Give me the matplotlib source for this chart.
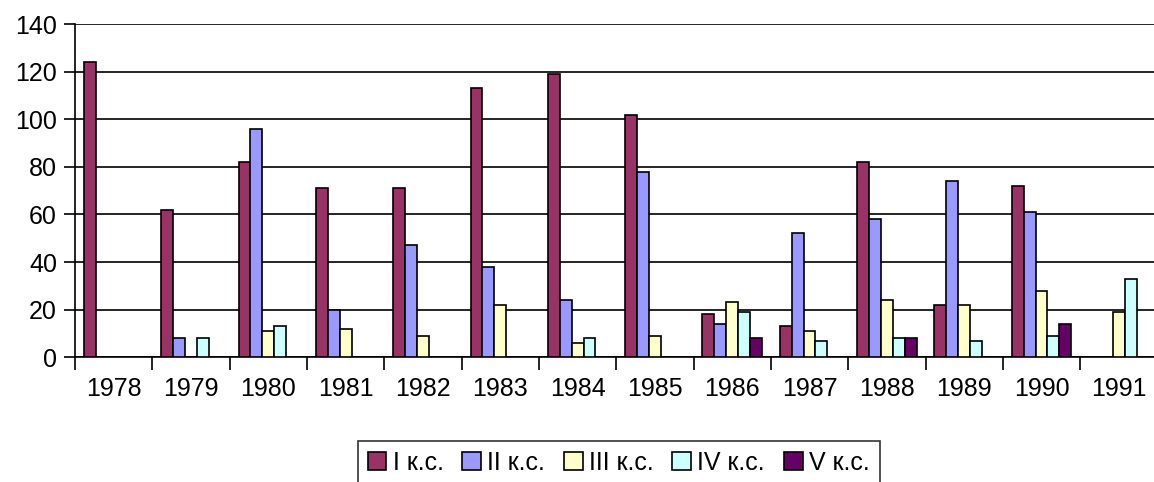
import numpy as np
import matplotlib
matplotlib.use("Agg")
import matplotlib.pyplot as plt

plt.rcParams['font.family'] = ['Liberation Sans', 'DejaVu Sans']

# ====== data ======
years = ["1978", "1979", "1980", "1981", "1982", "1983", "1984",
         "1985", "1986", "1987", "1988", "1989", "1990", "1991"]
series_names = ["I к.с.", "II к.с.", "III к.с.", "IV к.с.", "V к.с."]
cls_1 = [124, 62, 82, 71, 71, 113, 119, 102, 18, 13, 82, 22, 72, 0]
cls_2 = [0, 8, 96, 20, 47, 38, 24, 78, 14, 52, 58, 74, 61, 0]
cls_3 = [0, 0, 11, 12, 9, 22, 6, 9, 23, 11, 24, 22, 28, 19]
cls_4 = [0, 8, 13, 0, 0, 0, 8, 0, 19, 7, 8, 7, 9, 33]
cls_5 = [0, 0, 0, 0, 0, 0, 0, 0, 8, 0, 8, 0, 14, 0]
colors = ["#993366", "#9999FF", "#FFFFCC", "#CCFFFF", "#660066"]

all_series = [cls_1, cls_2, cls_3, cls_4, cls_5]

fig = plt.figure(figsize=(11.54, 4.82), dpi=100)
ax = fig.add_axes([0.065, 0.259, 0.938, 0.691])

x = np.arange(len(years))
bar_w = 1 / 6.5   # excel gap width 150%
for i, (vals, name, col) in enumerate(zip(all_series, series_names, colors)):
    offs = (i - 2) * bar_w
    v = np.array(vals, dtype=float)
    mask = v > 0
    ax.bar(x[mask] + offs, v[mask], width=bar_w, color=col,
           edgecolor="black", linewidth=1.2, zorder=3, label=name)

ax.set_xlim(-0.5, len(years) - 0.5)
ax.set_ylim(0, 140)
ax.set_yticks(range(0, 141, 20))
ax.yaxis.grid(True, color="black", linewidth=1.2, zorder=0)
ax.set_axisbelow(True)

ax.set_xticks(x)
ax.set_xticklabels(years)
ax.set_xticks(np.arange(-0.5, len(years)), minor=True)
ax.tick_params(axis="x", which="major", length=0, pad=14, labelsize=18)
ax.tick_params(axis="x", which="minor", length=9, width=1.2, direction="out")
ax.tick_params(axis="y", length=8, width=1.2, direction="out", labelsize=18, pad=5)

for s in ["top", "right"]:
    ax.spines[s].set_visible(False)
ax.spines["left"].set_linewidth(1.2)
ax.spines["bottom"].set_linewidth(1.2)

# legend frame runs off the bottom edge in the original
leg = fig.legend(loc="upper center", bbox_to_anchor=(0.536, 0.085), ncol=5,
                 fontsize=18, frameon=True, fancybox=False,
                 handlelength=0.75, handleheight=0.75, handletextpad=0.25,
                 columnspacing=0.75, borderpad=0.4, borderaxespad=0)
leg.get_frame().set_edgecolor("black")
leg.get_frame().set_linewidth(1.2)

fig.savefig("out.png", dpi=100)
